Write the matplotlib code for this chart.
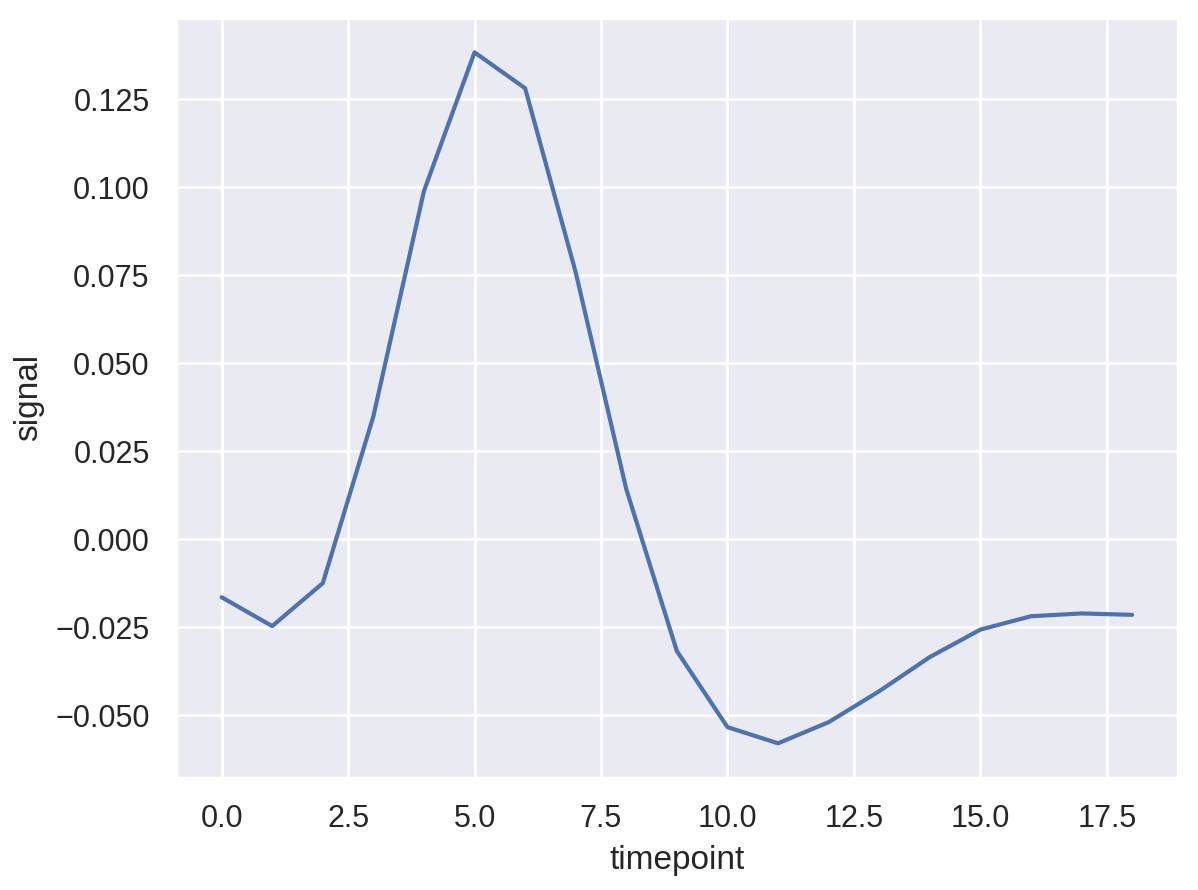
import numpy as np
import matplotlib
matplotlib.use("Agg")
import matplotlib.pyplot as plt
import seaborn as sns

sns.set_theme()
plt.rcParams['font.family'] = ['Liberation Sans', 'DejaVu Sans']
plt.rcParams['axes.unicode_minus'] = True
plt.rcParams['xtick.labelsize'] = 11
plt.rcParams['ytick.labelsize'] = 11
plt.rcParams['axes.labelsize'] = 12
plt.rcParams['grid.linewidth'] = 1.0

timepoint = list(range(19))
signal = [-0.0165, -0.0247, -0.0125, 0.0349, 0.0989, 0.1383, 0.1281, 0.0758,
          0.0142, -0.0318, -0.0534, -0.0580, -0.0520, -0.0432, -0.0335,
          -0.0257, -0.0219, -0.0211, -0.0215]

fig = plt.figure(figsize=(5.99, 4.45), dpi=200)
ax = fig.add_axes([0.147, 0.126, 0.983 - 0.147, 0.980 - 0.126])
ax.plot(timepoint, signal, color="#4c72b0", linewidth=1.5)
ax.set_xlabel("timepoint")
ax.set_ylabel("signal")
ax.set_xticks(np.arange(0, 18.1, 2.5))
ax.set_yticks(np.arange(-0.05, 0.126, 0.025))
ax.yaxis.set_major_formatter(matplotlib.ticker.FuncFormatter(
    lambda v, p: f"{v:.3f}".replace("-", "\u2212")))
ax.xaxis.set_major_formatter(matplotlib.ticker.FormatStrFormatter("%.1f"))
ax.margins(0.05)

fig.savefig("out.png", dpi=200)
